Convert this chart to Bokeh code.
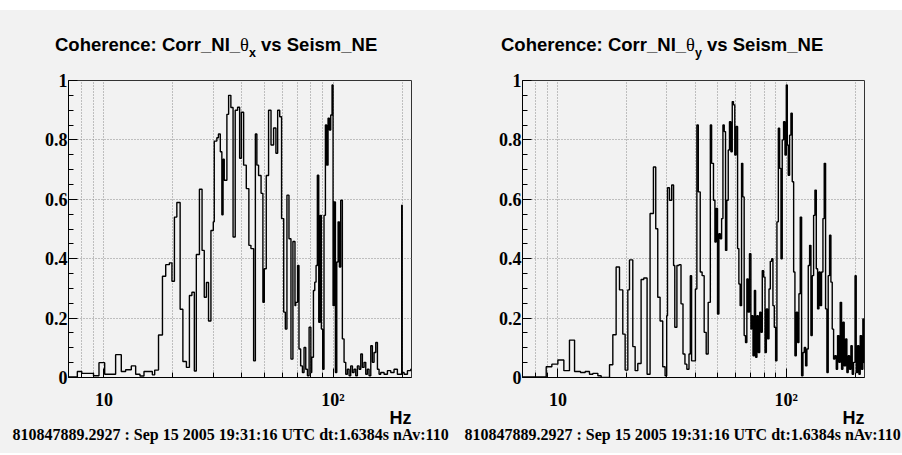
from bokeh.plotting import figure
from bokeh.layouts import row, column
from bokeh.models import Title, Div, FixedTicker, CustomJSTickFormatter
from bokeh.embed import file_html
from bokeh.resources import INLINE

# ---------------- data ----------------
x_range_hz = (7.0, 220.0)
x_major_ticks = [10, 100]
x_minor_ticks = [8, 9, 20, 30, 40, 50, 60, 70, 80, 90, 200]
y_major_ticks = [0, 0.2, 0.4, 0.6, 0.8, 1.0]
y_minor_ticks = [0.05, 0.1, 0.15, 0.25, 0.3, 0.35, 0.45, 0.5, 0.55,
                 0.65, 0.7, 0.75, 0.85, 0.9, 0.95]

footer = "810847889.2927 : Sep 15 2005 19:31:16 UTC dt:1.6384s nAv:110"
x_unit = "Hz"

# Corr_NI_theta_x vs Seism_NE : step start frequency (Hz) and coherence
freq_x = [7.0, 7.65, 8.0, 9.0, 9.51, 10.07, 11.24, 11.9, 12.43, 13.16, 13.75, 14.36, 14.95, 16.26, 16.65,
          17.3, 18.0, 18.6, 19.3, 19.8, 20.3, 20.8, 21.5, 22.1, 22.9, 23.6, 24.2, 24.8, 25.3, 26.1, 26.8,
          27.4, 28.0, 28.6, 29.3, 30.0,
          30.3, 31.1, 31.6, 32.2, 32.7, 33.1, 33.5, 34.4, 35.0, 35.8, 36.6, 37.4, 38.3, 39.1, 39.8, 40.7,
          41.8, 42.9, 43.8, 45.0,
          45.8, 46.5, 47.3, 48.5, 49.4, 50.1, 51.1, 52.3, 53.6, 55.0, 56.3, 57.3, 58.5, 59.6, 60.9, 61.9,
          62.9, 64.2, 65.5, 66.8, 68.2,
          68.7, 70.0, 71.0, 72.2, 73.5, 74.7, 76.0, 77.3, 78.6, 80.0, 80.7, 82.1, 83.2, 84.3, 85.4, 86.6,
          87.8, 88.9, 90.1, 91.3, 92.6, 93.8, 95.1, 96.4, 97.7, 99.0,
          100.0, 101.0, 102.4, 103.8, 105.2, 106.6, 108.0, 109.8, 111.7, 113.6, 115.5, 117.5, 119.4, 121.5,
          123.5, 125.6, 127.7, 129.9, 132.1, 134.3, 136.6, 138.9, 141.2, 143.6, 146.1, 148.5, 151.0, 153.6,
          156.2, 158.8, 161.5, 167.0, 172.7, 178.6, 184.6, 190.9, 199.4, 200.4, 204.2, 211.2, 218.4, 220.0]
coh_x = [0.002, 0.02, 0.014, 0.006, 0.05, 0.011, 0.077, 0.02, 0.026, 0.039, 0.011, 0.005, 0.02, 0.009, 0.025,
         0.143, 0.341, 0.38, 0.386, 0.324, 0.54, 0.589, 0.23, 0.054, 0.034, 0.276, 0.287, 0.022, 0.414, 0.634, 0.428,
         0.27, 0.32, 0.19, 0.495, 0.524,
         0.796, 0.807, 0.82, 0.76, 0.548, 0.735, 0.664, 0.886, 0.95, 0.909, 0.473, 0.9, 0.91, 0.738, 0.893, 0.715,
         0.636, 0.445, 0.434, 0.056,
         0.82, 0.715, 0.68, 0.62, 0.253, 0.366, 0.68, 0.9, 0.783, 0.84, 0.755, 0.9, 0.878, 0.535, 0.22, 0.163,
         0.614, 0.467, 0.062, 0.458, 0.242,
         0.253, 0.377, 0.096, 0.039, 0.017, 0.101, 0.028, 0.006, 0.169, 0.017, 0.068, 0.293, 0.321, 0.377, 0.681, 0.186,
         0.546, 0.163, 0.028, 0.546, 0.85, 0.715, 0.873, 0.833, 0.884, 0.985,
         0.242, 0.591, 0.017, 0.389, 0.524, 0.372, 0.597, 0.13, 0.051, 0.011, 0.028, 0.006, 0.039, 0.017,
         0.028, 0.006, 0.039, 0.028, 0.079, 0.034, 0.051, 0.011, 0.028, 0.006, 0.107, 0.051, 0.084, 0.118,
         0.028, 0.011, 0.017, 0.011, 0.023, 0.017, 0.028, 0.011, 0.58, 0.017, 0.011, 0.023, 0.028, 0.028]

# Corr_NI_theta_y vs Seism_NE
freq_y = [7.0, 8.89, 9.41, 10.0, 10.62, 11.24, 11.83, 12.56, 13.17, 13.75, 14.23, 14.96, 15.47, 16.83,
          17.4, 17.99, 18.61, 19.24, 19.7, 20.24, 20.58, 21.28, 21.79, 22.38, 23.14, 23.77, 24.58, 25.33,
          26.2, 26.82, 27.37, 28.02, 28.78, 29.47, 29.95,
          30.2, 30.8, 31.5, 32.1, 32.5, 33.2, 33.9, 34.6, 35.3, 36.0, 36.7, 37.5, 38.0, 38.5, 40.0, 40.6,
          41.2, 42.0, 42.8, 43.7, 44.6, 45.5, 46.5, 47.1, 48.0, 48.7, 49.3, 50.0, 50.7, 51.4, 52.1, 52.8,
          53.5, 54.2, 54.9, 55.7, 56.4, 57.2, 58.0, 58.7, 59.5, 60.3, 61.2, 62.0, 62.8, 63.7, 64.5, 65.4,
          66.3, 67.2, 68.1, 69.0, 70.0,
          70.5, 71.5, 72.5, 73.4, 74.4, 75.4, 76.5, 77.5, 78.5, 79.6, 80.7, 81.8, 82.9, 84.0, 85.1, 86.3,
          87.4, 88.6, 89.8, 91.0, 92.3, 93.5, 94.8, 96.0, 97.3, 98.7, 100.0, 101.0, 102.0, 103.4, 104.8,
          106.2, 107.7, 109.1, 110.6, 112.1, 113.6, 115.1, 116.7, 118.3, 119.9, 121.5, 123.1, 124.8, 126.5,
          128.2, 129.9, 131.7, 133.5, 135.3, 137.1, 139.0, 140.8, 142.7, 144.7, 146.6, 148.6, 150.6, 152.6,
          154.7, 156.8, 158.9, 161.1, 163.2, 165.5, 167.7, 170.0, 172.2, 174.6, 176.9, 179.3, 181.8, 184.2,
          186.7, 189.2, 191.8, 194.4, 197.0, 200.0, 202.4, 205.1, 207.9, 210.7, 213.5, 216.4, 219.0, 220.0]
coh_y = [0.002, 0.036, 0.045, 0.059, 0.023, 0.126, 0.02, 0.017, 0.02, 0.011, 0.014, 0.006, 0.0, 0.043,
         0.144, 0.372, 0.295, 0.146, 0.025, 0.295, 0.396, 0.104, 0.023, 0.047, 0.33, 0.335, 0.011, 0.552,
         0.709, 0.501, 0.27, 0.19, 0.036, 0.006, 0.208,
         0.639, 0.597, 0.648, 0.377, 0.169, 0.377, 0.38, 0.248, 0.079, 0.045, 0.028, 0.079, 0.343, 0.056, 0.298, 0.85,
         0.625, 0.355, 0.343, 0.152, 0.079, 0.253, 0.85, 0.721, 0.597, 0.456, 0.569, 0.214, 0.484, 0.467, 0.535, 0.85,
         0.828, 0.428, 0.597, 0.766, 0.861, 0.76, 0.929, 0.918, 0.749, 0.845, 0.434, 0.315, 0.242, 0.721, 0.608, 0.141,
         0.118, 0.332, 0.22, 0.417, 0.163,
         0.208, 0.073, 0.293, 0.068, 0.208, 0.084, 0.22, 0.152, 0.36, 0.338, 0.084, 0.231, 0.13, 0.298, 0.391, 0.4,
         0.242, 0.169, 0.056, 0.524, 0.839, 0.704, 0.4, 0.8, 0.861, 0.749, 0.985, 0.783, 0.681, 0.816, 0.89,
         0.659, 0.355, 0.073, 0.22, 0.118, 0.282, 0.54, 0.006, 0.084, 0.101, 0.039, 0.096, 0.377, 0.445,
         0.141, 0.343, 0.546, 0.631, 0.366, 0.231, 0.355, 0.242, 0.355, 0.535, 0.721, 0.231, 0.017, 0.343,
         0.479, 0.321, 0.163, 0.062, 0.073, 0.028, 0.141, 0.051, 0.253, 0.028, 0.186, 0.039, 0.13, 0.017,
         0.073, 0.028, 0.107, 0.011, 0.051, 0.343, 0.017, 0.107, 0.011, 0.141, 0.028, 0.197, 0.05, 0.05]

# ---------------- styling ----------------
BG = "#f2f2f2"
FRAME_H = 297
TITLE_H = 68
TOP = 12
BOTTOM = 76
SANS = "Liberation Sans"
SERIF = "Liberation Serif"


def title_div(sub, width, pad_left):
    html = (
        f'<div style="padding:36px 0 0 {pad_left}px; margin:0; white-space:nowrap; '
        f'font-family:\'{SANS}\'; font-weight:bold; font-size:18.5px; line-height:18.5px; color:black;">'
        'Coherence: Corr_NI_'
        f'<span style="font-family:\'{SERIF}\'; font-weight:normal;">&theta;</span>'
        f'<span style="font-size:12.5px; position:relative; top:6px;">{sub}</span>'
        ' vs Seism_NE</div>'
    )
    return Div(text=html, width=width, height=TITLE_H, margin=(0, 0, 0, 0),
               styles={"background": f"linear-gradient(to bottom, white 0px, white 10px, {BG} 10px)",
                       "overflow": "hidden"})


def make_panel(freqs, coh, sub, left, frame_w, right, title_pad, footer_off):
    width = left + frame_w + right
    p = figure(x_axis_type="log", x_range=x_range_hz, y_range=(0, 1),
               frame_width=frame_w, frame_height=FRAME_H,
               min_border_left=left, min_border_right=right,
               min_border_top=TOP, min_border_bottom=BOTTOM,
               title=None, output_backend="svg", toolbar_location=None,
               background_fill_color=BG, border_fill_color=BG, margin=(0, 0, 0, 0))
    p.outline_line_color = "#333333"
    p.outline_line_width = 1

    p.xaxis.ticker = FixedTicker(ticks=x_major_ticks, minor_ticks=x_minor_ticks)
    p.yaxis.ticker = FixedTicker(ticks=y_major_ticks, minor_ticks=y_minor_ticks)
    p.xaxis.formatter = CustomJSTickFormatter(
        code="return tick < 50 ? '10' : '10\u00b2';")
    p.yaxis.formatter = CustomJSTickFormatter(
        code="if (Math.abs(tick) < 1e-9) return '0'; if (Math.abs(tick-1) < 1e-9) return '1'; return tick.toFixed(1);")
    for ax in (p.xaxis[0], p.yaxis[0]):
        ax.axis_line_color = "black"
        ax.axis_line_width = 1
        ax.major_tick_in = 9
        ax.major_tick_out = 0
        ax.minor_tick_in = 5
        ax.minor_tick_out = 0
        ax.major_tick_line_color = "black"
        ax.minor_tick_line_color = "black"
        ax.major_label_text_font = SERIF
        ax.major_label_text_font_style = "bold"
        ax.major_label_text_font_size = "18px"
        ax.major_label_text_color = "black"
    p.xaxis.major_label_standoff = 12
    p.yaxis.major_label_standoff = 1

    p.xgrid.grid_line_color = "#8a8a8a"
    p.xgrid.grid_line_dash = "1 2"
    p.xgrid.minor_grid_line_color = "#8a8a8a"
    p.xgrid.minor_grid_line_dash = "1 2"
    p.ygrid.grid_line_color = "#8a8a8a"
    p.ygrid.grid_line_dash = "1 2"

    p.step(freqs, coh, mode="after", line_color="black", line_width=1.4)

    p.add_layout(Title(text=x_unit, align="right", standoff=-13, offset=0,
                       text_font=SANS, text_font_size="18px", text_font_style="bold",
                       text_color="black"), "below")
    p.add_layout(Title(text=footer, align="left", standoff=5, offset=footer_off,
                       text_font=SERIF, text_font_size="16px", text_font_style="bold",
                       text_color="black"), "below")

    return column(title_div(sub, width, title_pad), p, spacing=0,
                  styles={"background-color": BG})


left_panel = make_panel(freq_x, coh_x, "x", 68, 343, 40, 55, -56)
right_panel = make_panel(freq_y, coh_y, "y", 71, 342, 38, 50, -58)

layout = row(left_panel, right_panel, spacing=0, styles={"background-color": BG})
open("out.html", "w").write(file_html(layout, INLINE))
